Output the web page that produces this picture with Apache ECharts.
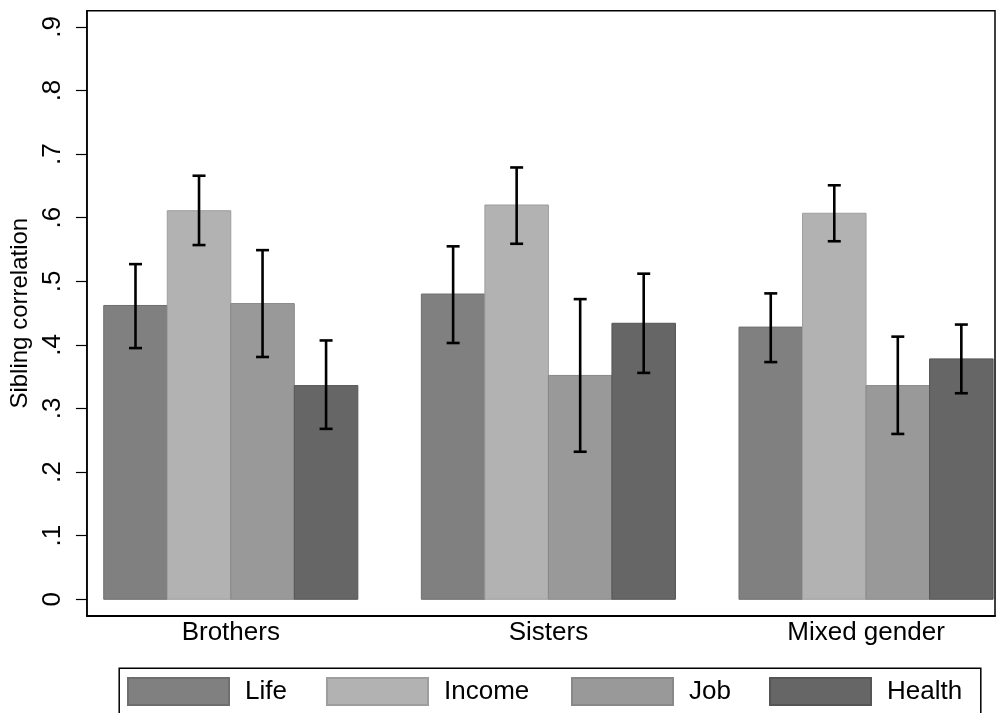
<!DOCTYPE html>
<html>
<head>
<meta charset="utf-8">
<script src="https://cdn.jsdelivr.net/npm/echarts@6/dist/echarts.min.js"></script>
<style>
html,body{margin:0;padding:0;background:#fff;}
#chart{width:1000px;height:713px;}
</style>
</head>
<body>
<div id="chart"></div>
<script>
var categories = ['Brothers', 'Sisters', 'Mixed gender'];
var seriesNames = ['Life', 'Income', 'Job', 'Health'];

var lifeVals   = [0.462, 0.480, 0.428];
var lifeLo     = [0.395, 0.403, 0.373];
var lifeHi     = [0.527, 0.555, 0.481];

var incomeVals = [0.611, 0.620, 0.607];
var incomeLo   = [0.557, 0.559, 0.563];
var incomeHi   = [0.666, 0.679, 0.651];

var jobVals    = [0.465, 0.352, 0.336];
var jobLo      = [0.381, 0.232, 0.260];
var jobHi      = [0.549, 0.472, 0.413];

var healthVals = [0.336, 0.434, 0.378];
var healthLo   = [0.268, 0.356, 0.324];
var healthHi   = [0.407, 0.512, 0.432];

var yTicks = [0, 0.1, 0.2, 0.3, 0.4, 0.5, 0.6, 0.7, 0.8, 0.9];
var yTickLabels = ['0', '.1', '.2', '.3', '.4', '.5', '.6', '.7', '.8', '.9'];

var colors  = ['#808080', '#b2b2b2', '#999999', '#666666'];
var borders = ['#6e6e6e', '#9e9e9e', '#888888', '#555555'];

var allVals = [lifeVals, incomeVals, jobVals, healthVals];
var allLo = [lifeLo, incomeLo, jobLo, healthLo];
var allHi = [lifeHi, incomeHi, jobHi, healthHi];

var BAR_W = 0.2;
var FONT = "'Liberation Sans', Arial, Helvetica, sans-serif";

function makeRender(si) {
  return function (params, api) {
    var gx = api.value(0);
    var v = api.value(1);
    var lo = api.value(2);
    var hi = api.value(3);
    var left = gx - 2 * BAR_W + si * BAR_W;
    var p0 = api.coord([left, 0]);
    var p1 = api.coord([left + BAR_W, v]);
    var cx = (p0[0] + p1[0]) / 2;
    var pLo = api.coord([gx, lo]);
    var pHi = api.coord([gx, hi]);
    var cap = 6.5;
    var lineStyle = { stroke: '#000', lineWidth: 2.6 };
    return {
      type: 'group',
      children: [
        { type: 'rect',
          shape: { x: p0[0], y: p1[1], width: p1[0] - p0[0], height: p0[1] - p1[1] },
          style: { fill: colors[si], stroke: borders[si], lineWidth: 1 } },
        { type: 'line', shape: { x1: cx, y1: pLo[1], x2: cx, y2: pHi[1] }, style: lineStyle, z2: 10 },
        { type: 'line', shape: { x1: cx - cap, y1: pLo[1], x2: cx + cap, y2: pLo[1] }, style: lineStyle, z2: 10 },
        { type: 'line', shape: { x1: cx - cap, y1: pHi[1], x2: cx + cap, y2: pHi[1] }, style: lineStyle, z2: 10 }
      ]
    };
  };
}

var series = seriesNames.map(function (name, si) {
  var data = categories.map(function (c, i) {
    return [i, allVals[si][i], allLo[si][i], allHi[si][i]];
  });
  return {
    type: 'custom',
    name: name,
    renderItem: makeRender(si),
    itemStyle: { color: colors[si], borderColor: borders[si], borderWidth: 1 },
    encode: { x: 0, y: [1, 2, 3] },
    data: data,
    clip: false,
    animation: false
  };
});

var legendLefts = [127, 326, 571, 769];
var legends = seriesNames.map(function (name, si) {
  return {
    data: [name],
    left: legendLefts[si],
    top: 677,
    padding: 0,
    icon: 'rect',
    itemWidth: 101,
    itemHeight: 27,
    selectedMode: false,
    textStyle: { fontFamily: FONT, fontSize: 26, color: '#000', padding: [0, 0, 0, 11] }
  };
});

var option = {
  backgroundColor: '#fff',
  animation: false,
  textStyle: { fontFamily: FONT },
  grid: {
    left: 85, right: 5, top: 10.7, bottom: 97.3,
    show: true, borderColor: '#000', borderWidth: 1.5, backgroundColor: 'transparent'
  },
  xAxis: {
    type: 'value',
    min: -0.453,
    max: 2.406,
    splitLine: { show: false },
    axisLine: { show: true, onZero: false, lineStyle: { color: '#000', width: 2 } },
    axisTick: { show: false },
    axisLabel: {
      customValues: [0, 1, 2],
      formatter: function (v) { return categories[Math.round(v)]; },
      fontFamily: FONT, fontSize: 26, color: '#000', margin: 4
    }
  },
  yAxis: {
    type: 'value',
    min: -0.0258,
    max: 0.9255,
    name: 'Sibling correlation',
    nameLocation: 'middle',
    nameGap: 50,
    nameTextStyle: { fontFamily: FONT, fontSize: 24, color: '#000' },
    splitLine: { show: false },
    axisLine: { show: true, onZero: false, lineStyle: { color: '#000', width: 1.5 } },
    axisTick: { show: true, customValues: yTicks, length: 11, lineStyle: { color: '#000', width: 1.2 } },
    axisLabel: {
      customValues: yTicks,
      formatter: function (v) {
        var idx = yTicks.findIndex(function (t) { return Math.abs(t - v) < 1e-6; });
        return idx >= 0 ? yTickLabels[idx] : '';
      },
      rotate: 90,
      margin: 21,
      fontFamily: FONT, fontSize: 26, color: '#000'
    }
  },
  legend: legends,
  graphic: [{
    type: 'rect',
    left: 116.7, top: 665.7,
    shape: { width: 861.6, height: 60 },
    style: { fill: 'none', stroke: '#000', lineWidth: 1.5 },
    silent: true
  }],
  series: series
};

var chart = echarts.init(document.getElementById('chart'), null, { renderer: 'canvas' });
chart.setOption(option);
</script>
</body>
</html>
